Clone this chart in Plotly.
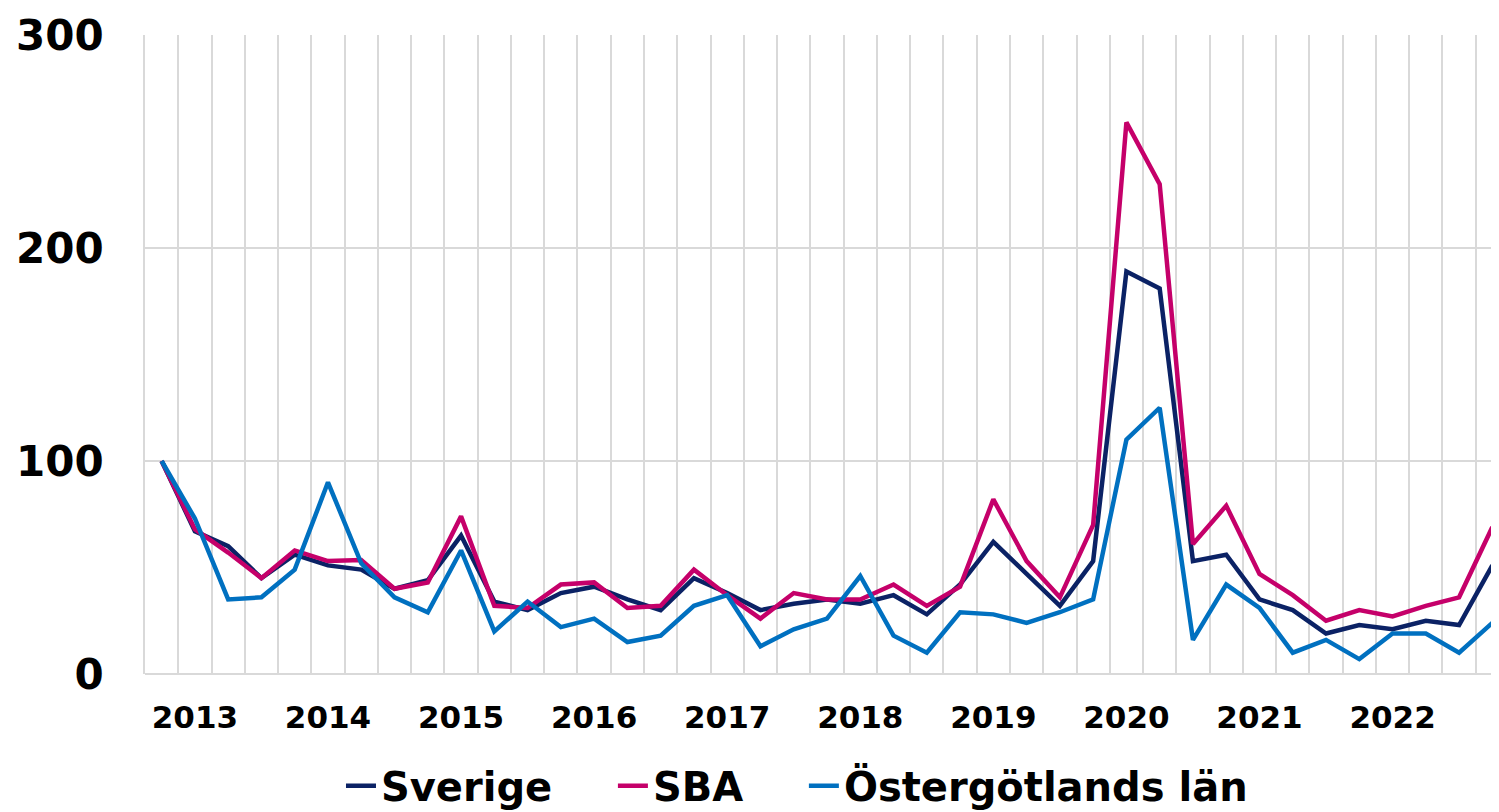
import plotly.graph_objects as go

# Quarterly index, 2012 Q4 = 100 ... 2022 Q4 (41 points)
quarters = list(range(41))
year_ticks = [1, 5, 9, 13, 17, 21, 25, 29, 33, 37]
year_labels = ["2013", "2014", "2015", "2016", "2017", "2018", "2019", "2020", "2021", "2022"]
quarter_bounds = [q - 0.5 for q in range(42)]

sverige = [100, 67, 60, 45, 56, 51, 49, 40, 44, 65, 34, 30, 38, 41, 35, 30, 45, 38, 30, 33, 35, 33, 37,
           28, 42, 62, 47, 32, 53, 189, 181, 53, 56, 35, 30, 19, 23, 21, 25, 23, 51]
sba = [100, 68, 57, 45, 58, 53, 53.5, 40, 43, 74, 32, 31, 42, 43, 31, 32, 49, 37, 26, 38, 35, 35, 42,
       32, 41, 82, 53, 36, 70, 259, 230, 61, 79, 47, 37, 25, 30, 27, 32, 36, 69]
ostergotland = [100, 73, 35, 36, 49, 90, 52, 36, 29, 58, 20, 34, 22, 26, 15, 18, 32, 37, 13, 21, 26, 46, 18,
                10, 29, 28, 24, 29, 35, 110, 125, 16, 42, 31, 10, 16, 7, 19, 19, 10, 24]

series = [("Sverige\u00a0\u00a0\u00a0\u00a0", sverige, "#0B2265"),
          ("SBA\u00a0\u00a0\u00a0\u00a0", sba, "#C5006A"),
          ("Östergötlands län", ostergotland, "#0070C0")]

fig = go.Figure()
for name, vals, col in series:
    fig.add_trace(go.Scatter(x=quarters, y=vals, mode="lines", name=name,
                             line=dict(color=col, width=4.5)))

# empty helper trace so that the year-label axis is drawn
fig.add_trace(go.Scatter(x=[], y=[], xaxis="x2", showlegend=False, hoverinfo="skip", mode="lines"))

grid = "#D9D9D9"
xr = [-0.5, 40.44]
fig.update_layout(
    width=1499, height=812,
    margin=dict(l=137, r=0, t=27, b=146, autoexpand=False),
    plot_bgcolor="white", paper_bgcolor="white",
    font=dict(family="DejaVu Sans", color="black"),
    showlegend=True,
    legend=dict(orientation="h", x=0.1439, xanchor="left", y=-0.124, yanchor="top",
                font=dict(family="DejaVu Sans", size=40, color="black", weight="bold"),
                itemwidth=30),
    xaxis=dict(range=xr, tickmode="array", tickvals=quarter_bounds, showticklabels=False,
               showgrid=True, gridcolor=grid, gridwidth=1.75, zeroline=False, showline=False,
               ticks=""),
    xaxis2=dict(range=xr, overlaying="x", side="bottom", anchor="y", tickmode="array",
                tickvals=year_ticks, ticktext=year_labels, showgrid=False, zeroline=False,
                showline=False, ticks="", ticklabelstandoff=22,
                tickfont=dict(family="DejaVu Sans", size=31, weight="bold")),
    yaxis=dict(range=[0, 300], tickmode="array", tickvals=[0, 100, 200, 300],
               showgrid=True, gridcolor=grid, gridwidth=1.75, zeroline=True, zerolinecolor=grid,
               zerolinewidth=1.75, showline=True, linecolor=grid, linewidth=1.75,
               tickfont=dict(family="DejaVu Sans", size=42, weight="bold"),
               ticks="", ticklabelstandoff=31),
)

fig.write_html("out.html")
